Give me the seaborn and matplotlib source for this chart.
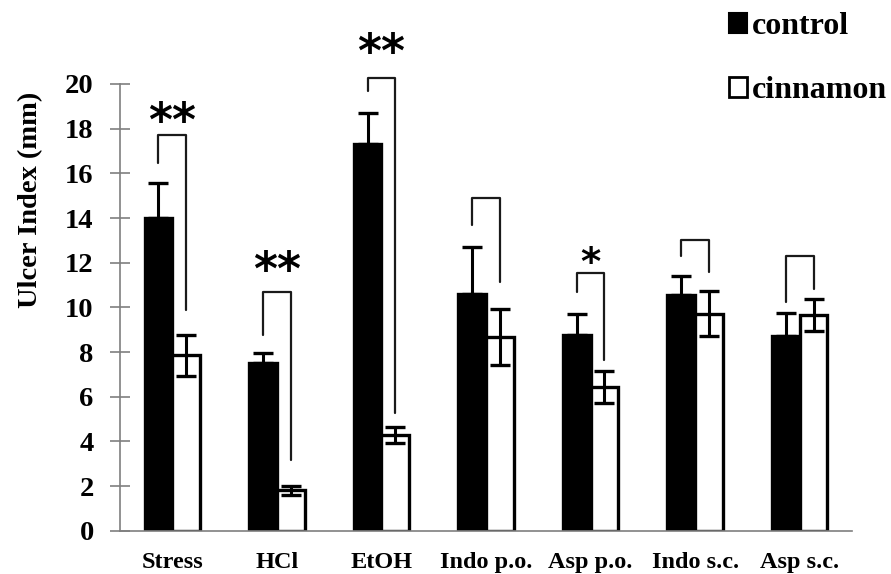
import matplotlib
matplotlib.use("Agg")
import matplotlib.pyplot as plt
import seaborn as sns
import pandas as pd
import numpy as np
from matplotlib.patches import Patch

# ---- data ----
categories = ["Stress", "HCl", "EtOH", "Indo p.o.", "Asp p.o.", "Indo s.c.", "Asp s.c."]
control = [14.0, 7.5, 17.3, 10.6, 8.75, 10.55, 8.7]
control_err = [1.55, 0.45, 1.4, 2.1, 0.97, 0.87, 1.03]
cinnamon = [7.85, 1.8, 4.28, 8.68, 6.43, 9.72, 9.65]
cinnamon_err = [0.92, 0.22, 0.35, 1.25, 0.7, 1.0, 0.72]
y_ticks = [0, 2, 4, 6, 8, 10, 12, 14, 16, 18, 20]

# significance annotations: bracket top, left-leg end, right-leg end, star label, star height
bracket_top = [17.7, 10.7, 20.26, 14.88, 11.55, 13.02, 12.3]
bracket_left_end = [16.45, 8.76, 19.7, 13.69, 10.7, 12.3, 10.26]
bracket_right_end = [9.88, 3.17, 5.26, 11.15, 7.64, 11.6, 10.81]
stars = ["**", "**", "**", "", "*", "", ""]
star_y = [18.22, 11.54, 21.3, 0, 11.95, 0, 0]

df = pd.DataFrame({
    "group": categories * 2,
    "treatment": ["control"] * len(categories) + ["cinnamon"] * len(categories),
    "value": control + cinnamon,
})

sns.set_theme(style="white")
serif = ["Liberation Serif", "DejaVu Serif"]
plt.rcParams["font.family"] = serif
plt.rcParams["text.color"] = "black"

fig = plt.figure(figsize=(8.91, 5.74), dpi=100)
ax = fig.add_axes([0.1347, 0.07544, 0.8215, 0.8755])

sns.barplot(data=df, x="group", y="value", hue="treatment", order=categories,
            hue_order=["control", "cinnamon"],
            palette={"control": "black", "cinnamon": "white"},
            edgecolor="black", linewidth=2.4, width=0.53, ax=ax, legend=False,
            errorbar=None, saturation=1)

ctrl_x = [p.get_x() + p.get_width() / 2 for p in ax.containers[0].patches]
cinn_x = [p.get_x() + p.get_width() / 2 for p in ax.containers[1].patches]

ax.errorbar(ctrl_x, control, yerr=[np.zeros(len(control)), control_err], fmt="none",
            ecolor="black", elinewidth=2.2, capsize=7, capthick=2.4, zorder=5)
ax.errorbar(cinn_x, cinnamon, yerr=cinnamon_err, fmt="none",
            ecolor="black", elinewidth=2.2, capsize=7, capthick=2.4, zorder=5)

for i in range(len(categories)):
    ax.plot([ctrl_x[i], ctrl_x[i], cinn_x[i], cinn_x[i]],
            [bracket_left_end[i], bracket_top[i], bracket_top[i], bracket_right_end[i]],
            color="#1a1a1a", lw=1.6, clip_on=False, zorder=6)
    if stars[i]:
        ax.text((ctrl_x[i] + cinn_x[i]) / 2, star_y[i], stars[i], ha="center", va="center",
                fontsize=33 if len(stars[i]) > 1 else 28, fontweight="bold",
                family=["DejaVu Sans"], color="black", clip_on=False)

ax.set_xlim(-0.5, 6.5)
ax.set_ylim(0, 22.5)
ax.set_yticks(y_ticks)
ax.set_yticklabels([str(t) for t in y_ticks])
ax.spines["left"].set_bounds(0, 20)
for s in ["top", "right"]:
    ax.spines[s].set_visible(False)
for s in ["left", "bottom"]:
    ax.spines[s].set_color("#7f7f7f")
    ax.spines[s].set_linewidth(1.2)

ax.tick_params(axis="y", direction="inout", length=14, width=1.2, color="#7f7f7f",
               left=True, pad=12, labelsize=20.5)
ax.tick_params(axis="x", length=0, pad=15, labelsize=17.5)
for lab in ax.get_yticklabels() + ax.get_xticklabels():
    lab.set_fontweight("bold")
    lab.set_color("black")

ax.set_xlabel("")
ax.set_ylabel("Ulcer Index (mm)", fontsize=20.5, fontweight="bold", color="black")
ax.yaxis.set_label_coords((43 - 120) / 732, (530.7 - 200) / 502.5)

handles = [Patch(facecolor="black", edgecolor="black", linewidth=1.5),
           Patch(facecolor="white", edgecolor="black", linewidth=2)]
fig.legend(handles, ["control", "cinnamon"], loc="upper left", bbox_to_anchor=(0.818, 0.979),
           frameon=False, handlelength=0.58, handleheight=0.58, handletextpad=0.15,
           labelspacing=1.1, prop={"family": serif, "weight": "bold", "size": 23},
           borderaxespad=0, borderpad=0)

fig.savefig("out.png", dpi=100)
